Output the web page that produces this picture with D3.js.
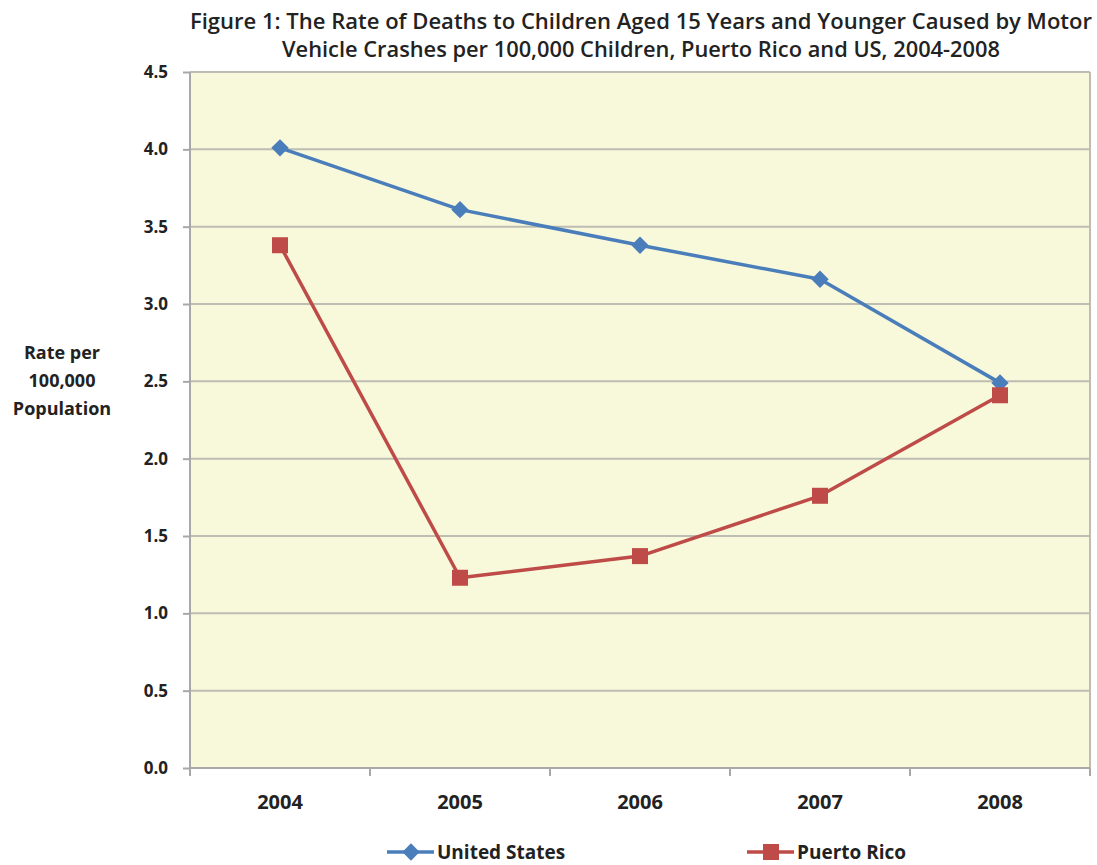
<!DOCTYPE html>
<html>
<head>
<meta charset="utf-8">
<script src="https://cdn.jsdelivr.net/npm/d3@7"></script>
<style>
body { margin:0; background:#fff; }
text { font-family: "Open Sans", "Noto Sans", sans-serif; fill:#222; }
</style>
</head>
<body>
<svg></svg>
<script>
var years = ["2004","2005","2006","2007","2008"]
var usValues = [4.01, 3.61, 3.38, 3.16, 2.49]
var prValues = [3.38, 1.23, 1.37, 1.76, 2.41]
var yTicks = [0, 0.5, 1.0, 1.5, 2.0, 2.5, 3.0, 3.5, 4.0, 4.5]
var seriesNames = ["United States", "Puerto Rico"]
var titleLines = ["Figure  1: The Rate of Deaths to Children Aged 15 Years and Younger Caused by Motor",
                  "Vehicle Crashes per 100,000 Children, Puerto Rico and US, 2004-2008"]
var yTitle = ["Rate per", "100,000", "Population"]

var screen = {width:1097, height:865}
var margins = {top:72, right:7, left:190, bottom:97}
var width = screen.width - margins.left - margins.right
var height = screen.height - margins.top - margins.bottom

var svg = d3.select("svg")
    .attr("width", screen.width)
    .attr("height", screen.height)

var xScale = d3.scaleBand().domain(years).range([0, width])
var yScale = d3.scaleLinear().domain([0, 4.5]).range([height, 0])

var graph = svg.append("g")
    .attr("transform", "translate(" + margins.left + "," + margins.top + ")")

// plot background
graph.append("rect")
    .attr("width", width).attr("height", height)
    .attr("fill", "#f8f8da")

// gridlines
graph.append("g").selectAll("line")
    .data(yTicks.filter(function(t){ return t > 0 }))
    .enter().append("line")
    .attr("x1", 0).attr("x2", width)
    .attr("y1", function(d){ return yScale(d) })
    .attr("y2", function(d){ return yScale(d) })
    .attr("stroke", "#bdbdb4").attr("stroke-width", 2)

// right border
graph.append("line")
    .attr("x1", width).attr("x2", width).attr("y1", 0).attr("y2", height)
    .attr("stroke", "#bdbdb4").attr("stroke-width", 2)

// y axis
var yAxis = graph.append("g")
    .call(d3.axisLeft(yScale).tickValues(yTicks).tickFormat(d3.format(".1f")).tickSize(7).tickPadding(15))
yAxis.selectAll("path, line").attr("stroke", "#a8a8a8").attr("stroke-width", 2)
yAxis.selectAll("text").attr("font-size", 17).attr("font-weight", "bold").attr("fill", "#222")
yAxis.select(".domain").attr("d", "M0,0V" + height)

// x axis: ticks on band boundaries
var xg = graph.append("g").attr("transform", "translate(0," + height + ")")
xg.append("line").attr("x1", 0).attr("x2", width)
    .attr("stroke", "#a8a8a8").attr("stroke-width", 2)
var bounds = years.map(function(y){ return xScale(y) }).concat([width])
xg.selectAll(".tk").data(bounds).enter().append("line")
    .attr("x1", function(d){ return d }).attr("x2", function(d){ return d })
    .attr("y1", 0).attr("y2", 8)
    .attr("stroke", "#a8a8a8").attr("stroke-width", 2)
xg.selectAll(".lbl").data(years).enter().append("text")
    .attr("x", function(d){ return xScale(d) + xScale.bandwidth()/2 })
    .attr("y", 41)
    .attr("text-anchor", "middle")
    .attr("font-size", 20).attr("font-weight", "bold")
    .text(function(d){ return d })

// lines
var colors = ["#4a7ebb", "#be4b48"]
var lineGen = d3.line()
    .x(function(d, i){ return xScale(years[i]) + xScale.bandwidth()/2 })
    .y(function(d){ return yScale(d) })

;[usValues, prValues].forEach(function(vals, s){
    graph.append("path")
        .datum(vals)
        .attr("d", lineGen)
        .attr("fill", "none")
        .attr("stroke", colors[s])
        .attr("stroke-width", 3.5)
        .attr("stroke-linejoin", "round")
})

// diamond = square rotated 45 degrees
var diamond = d3.symbol().type(d3.symbolSquare).size(150)
graph.selectAll(".us").data(usValues).enter().append("path")
    .attr("d", diamond)
    .attr("transform", function(d, i){ return "translate(" + (xScale(years[i]) + xScale.bandwidth()/2) + "," + yScale(d) + ") rotate(45)" })
    .attr("fill", colors[0])

graph.selectAll(".pr").data(prValues).enter().append("rect")
    .attr("x", function(d, i){ return xScale(years[i]) + xScale.bandwidth()/2 - 8 })
    .attr("y", function(d){ return yScale(d) - 8 })
    .attr("width", 16).attr("height", 16)
    .attr("fill", colors[1])

// title
var titleWidths = [902, 718]
titleLines.forEach(function(t, i){
    svg.append("text")
        .attr("x", 641).attr("y", 29 + i*28)
        .attr("text-anchor", "middle")
        .attr("font-size", 21).attr("font-weight", 600)
        .attr("textLength", titleWidths[i]).attr("lengthAdjust", "spacingAndGlyphs")
        .text(t)
})

// y title
yTitle.forEach(function(t, i){
    svg.append("text")
        .attr("x", 62).attr("y", 359 + i*28)
        .attr("text-anchor", "middle")
        .attr("font-size", 18).attr("font-weight", "bold")
        .text(t)
})

// legend
var legendX = [387, 747]
seriesNames.forEach(function(name, s){
    var lg = svg.append("g").attr("transform", "translate(" + legendX[s] + ",852)")
    lg.append("line").attr("x1", 0).attr("x2", 47)
        .attr("stroke", colors[s]).attr("stroke-width", 3.5)
    if (s == 0) {
        lg.append("path").attr("d", diamond).attr("transform", "translate(24,0) rotate(45)").attr("fill", colors[s])
    } else {
        lg.append("rect").attr("x", 16).attr("y", -8).attr("width", 16).attr("height", 16).attr("fill", colors[s])
    }
    lg.append("text").attr("x", 50).attr("y", 7)
        .attr("font-size", 19).attr("font-weight", "bold")
        .text(name)
})
</script>
</body>
</html>
